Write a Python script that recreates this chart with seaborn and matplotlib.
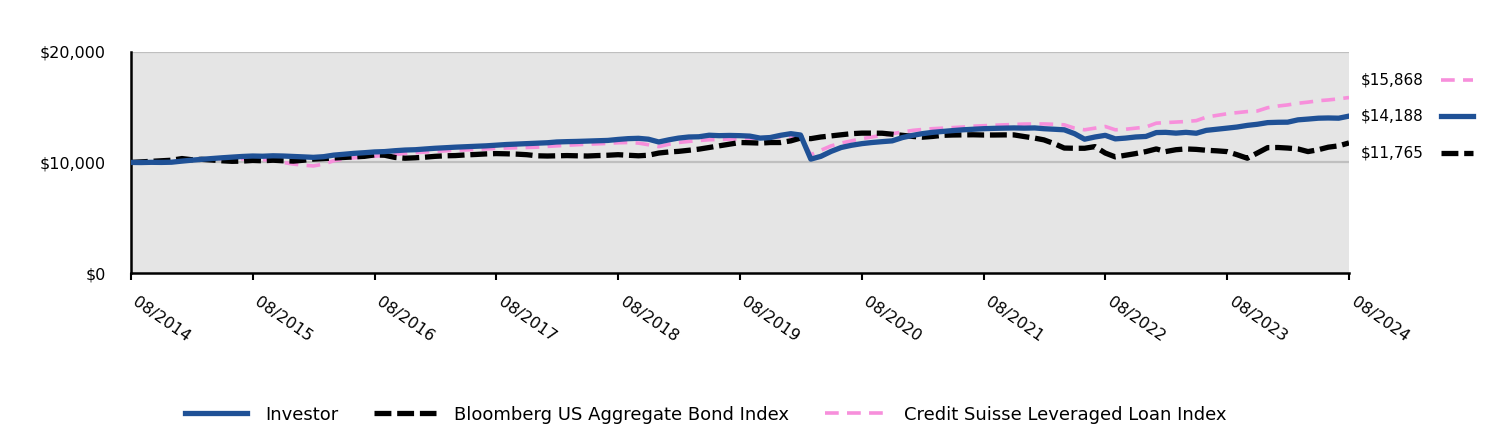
import numpy as np
import pandas as pd
import seaborn as sns
import matplotlib.pyplot as plt
import matplotlib.transforms as mtransforms
from matplotlib.lines import Line2D
from matplotlib.ticker import FuncFormatter

# month-end values, 08/2014 .. 08/2024
dates = pd.date_range("2014-08-31", "2024-08-31", freq="ME")

investor = [
    10000, 9990, 10010, 10000, 10020, 10120, 10200, 10280, 10350, 10420,
    10480, 10540, 10580, 10560, 10600, 10580, 10540, 10500, 10460, 10520,
    10660, 10740, 10820, 10880, 10950, 10980, 11060, 11120, 11150, 11220,
    11280, 11330, 11380, 11420, 11460, 11500, 11560, 11620, 11660, 11700,
    11740, 11780, 11850, 11880, 11900, 11930, 11960, 11990, 12080, 12150,
    12180, 12100, 11850, 12050, 12200, 12300, 12320, 12460, 12420, 12440,
    12420, 12380, 12200, 12250, 12450, 12600, 12480, 10300, 10550, 11000,
    11350, 11550, 11700, 11800, 11880, 11950, 12250, 12450, 12600, 12720,
    12800, 12880, 12950, 13000, 13050, 13080, 13100, 13120, 13100, 13120,
    13050, 13000, 12950, 12600, 12100, 12300, 12450, 12130, 12200, 12300,
    12350, 12700, 12720, 12650, 12720, 12640, 12900, 13000, 13100, 13200,
    13350, 13450, 13600, 13630, 13640, 13850, 13920, 14000, 14020, 14000,
    14188,
]

bloomberg = [
    10000, 10050, 10100, 10150, 10200, 10350, 10250, 10280, 10220, 10150,
    10100, 10120, 10180, 10150, 10200, 10150, 10120, 10200, 10300, 10350,
    10400, 10450, 10500, 10550, 10680, 10650, 10450, 10380, 10420, 10480,
    10550, 10600, 10620, 10680, 10720, 10770, 10800, 10780, 10750, 10700,
    10600, 10580, 10600, 10620, 10600, 10580, 10620, 10650, 10700, 10650,
    10600, 10650, 10850, 10950, 11000, 11100, 11200, 11350, 11500, 11650,
    11800, 11780, 11750, 11800, 11800, 11950, 12200, 12150, 12300, 12400,
    12500, 12600, 12650, 12650, 12640, 12550, 12450, 12350, 12280, 12350,
    12450, 12480, 12490, 12500, 12480, 12480, 12490, 12490, 12340, 12200,
    12040, 11700, 11300, 11280, 11280, 11430, 10850, 10500, 10650, 10800,
    10980, 11220, 10980, 11150, 11220, 11180, 11100, 11050, 10980, 10700,
    10380, 10850, 11340, 11350, 11300, 11220, 10980, 11150, 11380, 11500,
    11765,
]

credit_suisse = [
    10000, 10010, 10050, 10080, 10100, 10150, 10200, 10250, 10300, 10330,
    10350, 10320, 10300, 10250, 10200, 10000, 9850, 9750, 9680, 9850,
    10150, 10300, 10420, 10500, 10560, 10650, 10720, 10800, 10880, 10940,
    11000, 11050, 11100, 11130, 11170, 11220, 11260, 11300, 11330, 11350,
    11380, 11450, 11500, 11550, 11600, 11650, 11680, 11720, 11780, 11800,
    11750, 11600, 11430, 11650, 11800, 11900, 11980, 12050, 12080, 12100,
    12130, 12180, 12200, 12250, 12300, 12350, 12300, 10700, 11100, 11500,
    11750, 11950, 12150, 12300, 12450, 12600, 12750, 12900, 12980, 13050,
    13100, 13150, 13200, 13280, 13320, 13360, 13400, 13430, 13470, 13480,
    13480, 13450, 13400, 13100, 12950, 13100, 13250, 12950, 13000, 13100,
    13200, 13550, 13600, 13650, 13700, 13780, 14100, 14250, 14400, 14500,
    14600, 14650, 14950, 15100, 15200, 15350, 15450, 15580, 15650, 15750,
    15868,
]

tick_dates = pd.date_range("2014-08-31", "2024-08-31", freq="12ME")
tick_labels = [d.strftime("%m/%Y") for d in tick_dates]

BLUE = "#1F5196"
BLACK = "#000000"
PINK = "#F78FDB"

fig = plt.figure(figsize=(15.12, 4.32), dpi=100)
ax = fig.add_axes([0.0866, 0.368, 0.8056, 0.512])
ax.set_facecolor("#E5E5E5")

sns.lineplot(x=dates, y=credit_suisse, ax=ax, color=PINK, linewidth=2.6, zorder=2)
ax.lines[-1].set_dashes((3.8, 2.3))
sns.lineplot(x=dates, y=bloomberg, ax=ax, color=BLACK, linewidth=3.8, zorder=3)
ax.lines[-1].set_dashes((3.2, 1.1))
sns.lineplot(x=dates, y=investor, ax=ax, color=BLUE, linewidth=3.8, zorder=4)

ax.set_xlim(dates[0], dates[-1])
ax.set_ylim(0, 20000)
ax.set_yticks([0, 10000, 20000])
ax.yaxis.set_major_formatter(FuncFormatter(lambda v, p: f"${v:,.0f}"))
for yv in (10000, 20000):
    ax.axhline(yv, color="#BFBFBF", lw=1.6, zorder=1)

ax.tick_params(axis="x", length=5, width=1.5, direction="out", pad=10)
ax.tick_params(axis="y", length=0, pad=18, labelsize=11.5)
ax.set_xticks(tick_dates)
ax.set_xticklabels(tick_labels, rotation=-35, ha="left", va="top",
                   rotation_mode="anchor", fontsize=11.5)
# nudge the slanted labels so they start right at the tick
shift = mtransforms.ScaledTranslation(8 / 100, 0, fig.dpi_scale_trans)
for lbl in ax.get_xticklabels():
    lbl.set_transform(lbl.get_transform() + shift)
ax.set_xlabel("")
ax.set_ylabel("")

for side in ("top", "right"):
    ax.spines[side].set_visible(False)
for side in ("left", "bottom"):
    ax.spines[side].set_linewidth(1.8)
    ax.spines[side].set_color("black")

# ending values at the right
ends = [(credit_suisse[-1], PINK, (3.8, 2.3), 2.6, 0.815),
        (investor[-1], BLUE, None, 3.8, 0.731),
        (bloomberg[-1], BLACK, (3.2, 1.1), 3.8, 0.646)]
for val, col, dash, lw, yf in ends:
    fig.text(0.9, yf, f"${val:,.0f}", fontsize=11, va="center", ha="left")
    ln = Line2D([0.953, 0.974], [yf, yf], transform=fig.transFigure,
                color=col, lw=lw)
    if dash:
        ln.set_dashes(dash)
    fig.add_artist(ln)

handles = [
    Line2D([], [], color=BLUE, lw=3.8),
    Line2D([], [], color=BLACK, lw=3.8, dashes=(3.2, 1.1)),
    Line2D([], [], color=PINK, lw=2.6, dashes=(3.8, 2.3)),
]
labels = ["Investor", "Bloomberg US Aggregate Bond Index",
          "Credit Suisse Leveraged Loan Index"]
fig.legend(handles, labels, loc="center", bbox_to_anchor=(0.467, 0.04),
           ncol=3, frameon=False, fontsize=13, handlelength=3.4,
           handletextpad=1.0, columnspacing=2.0)

fig.savefig("out.png", dpi=100)
